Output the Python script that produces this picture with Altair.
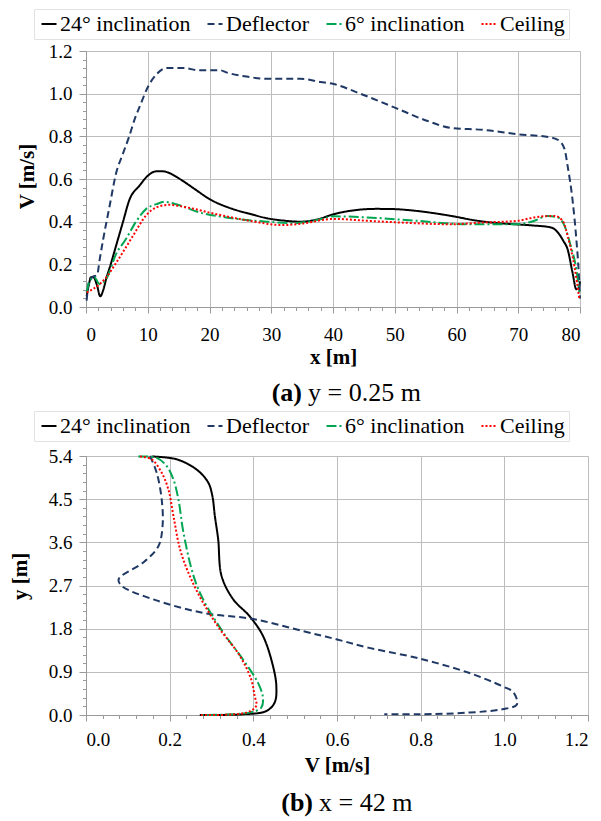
import altair as alt
import pandas as pd

FONT = "Liberation Serif"
series = ["24° inclination", "Deflector", "6° inclination", "Ceiling"]
colors = ["#000000", "#1f3864", "#00a651", "#ff0000"]
dashes = [[1, 0], [7, 4], [10, 3, 2, 3], [2, 2]]

# ---- (a) y = 0.25 m : V along x ----
a_x24 = [0.1, 0.5, 0.8, 1.2, 1.8, 2.3, 2.8, 3.25, 4.0, 4.9, 6.0, 7.0, 8.7, 10.0, 11.4, 12.5, 13.5, 15.2, 17.5,
         20.0, 23.8, 26.5, 29.3, 32.0, 34.7, 37.4, 40.1, 43.9, 47.0, 49.8, 53.0, 56.3, 59.5, 62.8, 66.0, 69.9,
         72.5, 75.3, 76.4, 77.3, 78.0, 78.8, 79.4, 79.8, 80.0]
a_v24 = [0.05, 0.11, 0.14, 0.14, 0.10, 0.05, 0.08, 0.13, 0.20, 0.29, 0.40, 0.50, 0.57, 0.615, 0.636, 0.636, 0.628,
         0.60, 0.555, 0.506, 0.459, 0.437, 0.416, 0.405, 0.40, 0.41, 0.435, 0.455, 0.46, 0.459, 0.452, 0.44, 0.425,
         0.407, 0.395, 0.387, 0.382, 0.373, 0.35, 0.31, 0.27, 0.16, 0.083, 0.09, 0.12]
a_xD = [0.1, 0.5, 1.0, 1.8, 2.2, 2.8, 3.8, 4.9, 6.0, 7.0, 8.0, 8.7, 10.0, 11.4, 13.0, 16.0, 18.0, 21.7, 22.7, 26.0,
        29.3, 34.7, 38.0, 40.1, 44.4, 50.4, 55.2, 59.0, 64.4, 69.9, 75.3, 76.6, 77.5, 78.0, 78.8, 79.4, 79.8, 80.0]
a_vD = [0.03, 0.12, 0.14, 0.15, 0.22, 0.32, 0.47, 0.63, 0.72, 0.80, 0.89, 0.94, 1.03, 1.09, 1.12, 1.12, 1.11, 1.11,
        1.10, 1.08, 1.07, 1.07, 1.055, 1.045, 1.0, 0.93, 0.873, 0.84, 0.83, 0.81, 0.795, 0.78, 0.74, 0.66, 0.50,
        0.32, 0.16, 0.04]
a_x6 = [0.1, 0.5, 1.35, 2.2, 3.25, 4.9, 6.5, 8.1, 9.75, 11.4, 12.7, 14.6, 18.4, 22.7, 29.3, 33.6, 37.4, 40.1, 45.5,
        53.6, 61.7, 69.9, 72.6, 74.7, 76.4, 77.5, 78.5, 79.4, 79.9]
a_v6 = [0.068, 0.115, 0.14, 0.107, 0.13, 0.25, 0.32, 0.40, 0.46, 0.482, 0.493, 0.482, 0.443, 0.42, 0.40, 0.393,
        0.408, 0.425, 0.42, 0.404, 0.388, 0.388, 0.404, 0.427, 0.42, 0.38, 0.286, 0.177, 0.068]
a_xC = [0.1, 2.2, 3.25, 4.9, 7.6, 9.75, 11.4, 13.5, 16.3, 21.1, 26.5, 31.9, 34.7, 40.1, 45.5, 50.9, 59.0, 64.4,
        69.9, 72.6, 75.8, 77.2, 78.0, 79.1, 79.9]
a_vC = [0.068, 0.107, 0.138, 0.208, 0.333, 0.43, 0.467, 0.479, 0.467, 0.435, 0.404, 0.384, 0.39, 0.413, 0.404,
        0.396, 0.388, 0.396, 0.404, 0.42, 0.427, 0.404, 0.333, 0.19, 0.036]

# ---- (b) x = 42 m : V along height y ----
b_v24 = [0.157, 0.217, 0.264, 0.292, 0.302, 0.308, 0.316, 0.324, 0.352, 0.391, 0.423, 0.447, 0.455, 0.451, 0.431,
         0.375, 0.272]
b_y24 = [5.39, 5.33, 5.12, 4.85, 4.57, 4.15, 3.66, 2.9, 2.41, 2.06, 1.65, 1.02, 0.60, 0.26, 0.083, 0.015, 0.0]
b_vD = [0.153, 0.169, 0.181, 0.183, 0.173, 0.137, 0.078, 0.086, 0.161, 0.28, 0.40, 0.518, 0.598, 0.677, 0.796,
        0.915, 0.995, 1.022, 1.03, 0.995, 0.915, 0.796, 0.713]
b_yD = [5.4, 5.05, 4.49, 3.94, 3.52, 3.18, 2.83, 2.69, 2.41, 2.13, 2.0, 1.75, 1.58, 1.40, 1.18, 0.88, 0.60, 0.47,
        0.22, 0.12, 0.05, 0.015, 0.015]
b_v6 = [0.125, 0.169, 0.193, 0.209, 0.221, 0.233, 0.257, 0.28, 0.328, 0.375, 0.411, 0.423, 0.419, 0.391, 0.272]
b_y6 = [5.39, 5.36, 5.19, 4.91, 4.49, 3.80, 2.9, 2.41, 1.72, 1.16, 0.675, 0.36, 0.154, 0.05, 0.0]
b_vC = [0.129, 0.157, 0.181, 0.197, 0.209, 0.225, 0.248, 0.28, 0.32, 0.368, 0.395, 0.403, 0.407, 0.383, 0.272]
b_yC = [5.39, 5.33, 5.05, 4.70, 4.15, 3.45, 2.9, 2.34, 1.79, 1.23, 0.74, 0.40, 0.19, 0.05, 0.0]

a_ticks_x = [0, 10, 20, 30, 40, 50, 60, 70, 80]
a_ticks_y = [0.0, 0.2, 0.4, 0.6, 0.8, 1.0, 1.2]
a_minor_x = list(range(0, 81, 2))
a_minor_y = [round(i * 0.04, 2) for i in range(31)]
b_ticks_x = [0.0, 0.2, 0.4, 0.6, 0.8, 1.0, 1.2]
b_ticks_y = [0.0, 0.9, 1.8, 2.7, 3.6, 4.5, 5.4]
b_minor_x = [round(i * 0.04, 2) for i in range(31)]
b_minor_y = [round(i * 0.18, 2) for i in range(31)]


def long_df(pairs, xname, yname):
    rows = []
    for s, (xs, ys) in zip(series, pairs):
        for i, (a, b) in enumerate(zip(xs, ys)):
            rows.append({"series": s, xname: a, yname: b, "idx": i})
    return pd.DataFrame(rows)


df_a = long_df([(a_x24, a_v24), (a_xD, a_vD), (a_x6, a_v6), (a_xC, a_vC)], "x", "V")
df_b = long_df([(b_v24, b_y24), (b_vD, b_yD), (b_v6, b_y6), (b_vC, b_yC)], "V", "y")

GRID = "#bdbdbd"
AXC = "#9a9a9a"


def legend(ly):
    return alt.Legend(orient="none", legendX=-52, legendY=ly, direction="horizontal", columns=4,
                      title=None, symbolType="stroke", symbolSize=225, symbolStrokeWidth=2.2,
                      labelFont=FONT, labelFontSize=22, labelColor="black", labelLimit=400,
                      columnPadding=12, labelOffset=0, padding=4, strokeColor="#e2e2e2")


def major_axis(vals, fmt, title, orient, tsize, lpad, **kw):
    return alt.Axis(values=vals, format=fmt, grid=True, gridColor=GRID, gridWidth=1,
                    domainColor=AXC, tickColor=AXC, tickSize=tsize, labelPadding=lpad,
                    labelFont=FONT, labelFontSize=19, labelColor="black",
                    title=title, titleFont=FONT, titleFontSize=21, titleFontWeight="bold",
                    titleColor="black", titleBaseline="middle", orient=orient, **kw)


def minor_axis(vals, orient):
    return alt.Axis(values=vals, labels=False, domain=False, grid=False, ticks=True, tickSize=3.5,
                    tickColor=AXC, title=None, orient=orient)


def panel(df, xf, yf, xdom, ydom, xt, yt, xminor, yminor, xfmt, xtitle, ytitle,
          w, h, ytx, yty, lpad_x, ly, cap_bold, cap_rest, capx, capy, interp):
    xs = alt.Scale(domain=xdom, nice=False, zero=False)
    ys = alt.Scale(domain=ydom, nice=False, zero=False)
    color = alt.Color("series:N", scale=alt.Scale(domain=series, range=colors), legend=legend(ly))
    dash = alt.StrokeDash("series:N", scale=alt.Scale(domain=series, range=dashes), legend=legend(ly))
    lines = alt.Chart(df).mark_line(strokeWidth=2, interpolate=interp).encode(
        x=alt.X(f"{xf}:Q", scale=xs,
                axis=major_axis(xt, xfmt, xtitle, "bottom", 6, lpad_x, titleY=50)),
        y=alt.Y(f"{yf}:Q", scale=ys,
                axis=major_axis(yt, ".1f", ytitle, "left", 7, 7, titleX=ytx, titleY=yty)),
        color=color, strokeDash=dash, order=alt.Order("idx:Q"))
    minor = alt.Chart(df).mark_line(opacity=0).encode(
        x=alt.X(f"{xf}:Q", scale=xs, axis=minor_axis(xminor, "bottom")),
        y=alt.Y(f"{yf}:Q", scale=ys, axis=minor_axis(yminor, "left")),
        detail="series:N")
    capdf = pd.DataFrame({"t": [cap_bold], "u": [cap_rest]})
    cap1 = alt.Chart(capdf).mark_text(font=FONT, fontSize=26, fontWeight="bold", align="right",
                                      baseline="middle", color="black").encode(
        x=alt.value(capx), y=alt.value(capy), text="t:N")
    cap2 = alt.Chart(capdf).mark_text(font=FONT, fontSize=26, align="left",
                                      baseline="middle", color="black").encode(
        x=alt.value(capx + 6), y=alt.value(capy), text="u:N")
    return alt.layer(minor, lines, cap1, cap2).resolve_axis(x="independent", y="independent").properties(
        width=w, height=h)


top = panel(df_a, "x", "V", [0, 80], [0, 1.2], a_ticks_x, a_ticks_y, a_minor_x, a_minor_y, "d",
            "x [m]", "V [m/s]", 494, 256, -59, 125, 12, -42, "(a)", "y = 0.25 m", 216, 342, "monotone")
bottom = panel(df_b, "V", "y", [0, 1.2], [0, 5.4], b_ticks_x, b_ticks_y, b_minor_x, b_minor_y, ".1f",
               "V [m/s]", "y [m]", 502, 259, -66, 120, 9, -45, "(b)", "x = 42 m", 227, 347, "catmull-rom")

chart = alt.vconcat(top, bottom, spacing=3).resolve_scale(
    color="independent", strokeDash="independent").resolve_legend(
    color="independent", strokeDash="independent").properties(padding=0).configure_view(
    stroke=None).configure(font=FONT, background="white")
chart.save("out.html", embed_options={"renderer": "svg", "actions": False})
